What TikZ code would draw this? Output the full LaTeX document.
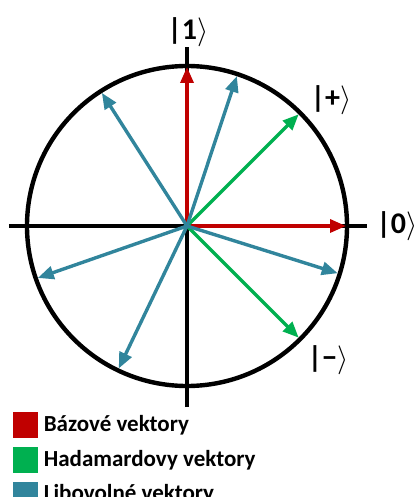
\documentclass[tikz,border=0pt]{standalone}
\usepackage{fontspec}
\setmainfont{Carlito}
\usetikzlibrary{arrows.meta,positioning}
\definecolor{BaseRed}{HTML}{C00000}
\definecolor{HadGreen}{HTML}{00B050}
\definecolor{AnyTeal}{HTML}{31859C}
\newcommand{\ket}[1]{|#1$\rangle$}

\begin{document}
\begin{tikzpicture}[
  x=0.5pt, y=0.5pt,
  axis/.style={line width=2pt},
  vec/.style={line width=1.7pt, -{Triangle[length=8pt,width=6.5pt]}},
  lbl/.style={font=\fontsize{15}{17}\selectfont\bfseries, inner sep=0pt},
  key/.style={minimum width=12.5pt, minimum height=13pt, inner sep=0pt},
  keytext/.style={font=\fontsize{11.5}{13}\selectfont\bfseries, inner sep=0pt},
]
  \useasboundingbox (-187,226) rectangle (228,-271);

  % axes and unit circle
  \coordinate (O) at (0,0);
  \coordinate (xl) at (-178,0);
  \coordinate (xr) at (180,0);
  \coordinate (yt) at (0,179);
  \coordinate (yb) at (0,-181);
  \draw[axis] (xl) -- (xr);
  \draw[axis] (yb) -- (yt);
  \draw[line width=2.2pt] (O) circle (160);

  % basis vectors
  \coordinate (e0) at (0:159);
  \coordinate (e1) at (90:159);
  \draw[vec, BaseRed] (O) -- (e0);
  \draw[vec, BaseRed] (O) -- (e1);

  % Hadamard vectors
  \coordinate (hp) at (45:158);
  \coordinate (hm) at (-45:158);
  \draw[vec, HadGreen] (O) -- (hp);
  \draw[vec, HadGreen] (O) -- (hm);

  % arbitrary vectors
  \foreach \a/\n in {71.6/a, 122.6/b, -17.4/c, 199.2/d, 244.4/e} {
    \coordinate (v\n) at (\a:158);
    \draw[vec, AnyTeal] (O) -- (v\n);
  }

  \node[lbl] (k1) at (1,194) {\ket{1}};
  \node[lbl] (k0) at (210,0) {\ket{0}};
  \node[lbl] (kp) at (144,126) {\ket{+}};
  \node[lbl] (km) at (141,-134) {\ket{−}};

  % legend
  \node[key, fill=BaseRed] (keyB) at (-161.5,-199) {};
  \node[key, fill=HadGreen, below=4pt of keyB] (keyH) {};
  \node[key, fill=AnyTeal, below=4pt of keyH] (keyL) {};
  \node[keytext, right=2.5pt of keyB] (txtB) {Bázové vektory};
  \node[keytext, right=2.5pt of keyH] (txtH) {Hadamardovy vektory};
  \node[keytext, right=2.5pt of keyL] (txtL) {Libovolné vektory};
\end{tikzpicture}
\end{document}
